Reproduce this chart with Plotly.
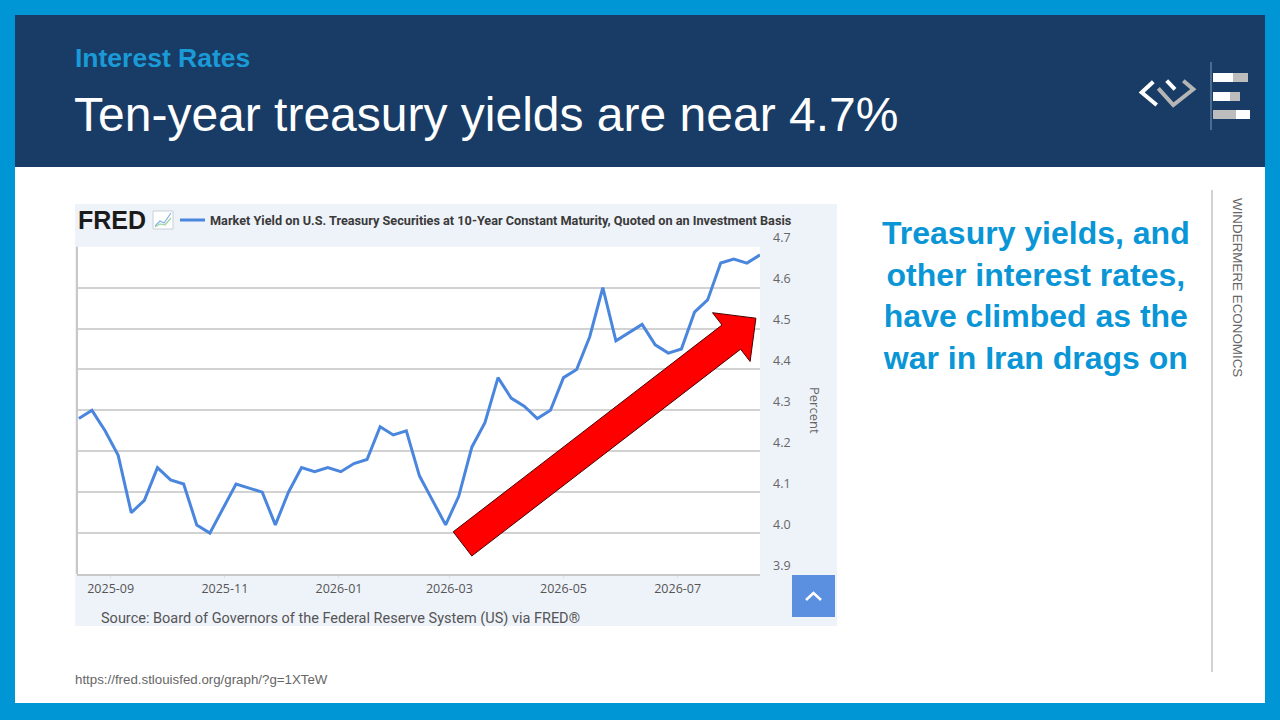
import plotly.graph_objects as go

# ---------------- data ----------------
dates = [
    "2025-08-15", "2025-08-22", "2025-08-29", "2025-09-05", "2025-09-12", "2025-09-19", "2025-09-26",
    "2025-10-03", "2025-10-10", "2025-10-17", "2025-10-24", "2025-10-31", "2025-11-07", "2025-11-14",
    "2025-11-21", "2025-11-28", "2025-12-05", "2025-12-12", "2025-12-19", "2025-12-26", "2026-01-02",
    "2026-01-09", "2026-01-16", "2026-01-23", "2026-01-30", "2026-02-06", "2026-02-13", "2026-02-20",
    "2026-02-27", "2026-03-06", "2026-03-13", "2026-03-20", "2026-03-27", "2026-04-03", "2026-04-10",
    "2026-04-17", "2026-04-24", "2026-05-01", "2026-05-08", "2026-05-15", "2026-05-22", "2026-05-29",
    "2026-06-05", "2026-06-12", "2026-06-19", "2026-06-26", "2026-07-03", "2026-07-10", "2026-07-17",
    "2026-07-24", "2026-07-31", "2026-08-07", "2026-08-14",
]
yield_10y = [
    4.28, 4.30, 4.25, 4.19, 4.05, 4.08, 4.16,
    4.13, 4.12, 4.02, 4.00, 4.06, 4.12, 4.11,
    4.10, 4.02, 4.10, 4.16, 4.15, 4.16, 4.15,
    4.17, 4.18, 4.26, 4.24, 4.25, 4.14, 4.08,
    4.02, 4.09, 4.21, 4.27, 4.38, 4.33, 4.31,
    4.28, 4.30, 4.38, 4.40, 4.48, 4.60, 4.47,
    4.49, 4.51, 4.46, 4.44, 4.45, 4.54, 4.57,
    4.66, 4.67, 4.66, 4.68,
]
x_tick_dates = ["2025-09-01", "2025-11-01", "2026-01-01", "2026-03-01", "2026-05-01", "2026-07-01"]
x_tick_labels = ["2025-09", "2025-11", "2026-01", "2026-03", "2026-05", "2026-07"]
y_ticks = [3.9, 4.0, 4.1, 4.2, 4.3, 4.4, 4.5, 4.6, 4.7]
y_tick_labels = ["3.9", "4.0", "4.1", "4.2", "4.3", "4.4", "4.5", "4.6", "4.7"]

section_label = "Interest Rates"
title_text = "Ten-year treasury yields are near 4.7%"
series_name = "Market Yield on U.S. Treasury Securities at 10-Year Constant Maturity, Quoted on an Investment Basis"
side_note = "Treasury yields, and<br>other interest rates,<br>have climbed as the<br>war in Iran drags on"
source_text = "Source: Board of Governors of the Federal Reserve System (US) via FRED®"
url_text = "https://fred.stlouisfed.org/graph/?g=1XTeW"
brand_text = "WINDERMERE ECONOMICS"

# ---------------- layout helpers ----------------
W, H = 1280, 720


def px(x, y):
    return x / W, 1 - y / H


def rect(x0, y0, x1, y1, color, layer="below", line=None):
    a, b = px(x0, y0)
    c, d = px(x1, y1)
    return dict(type="rect", xref="paper", yref="paper", x0=a, y0=d, x1=c, y1=b,
                fillcolor=color, line=line or dict(width=0), layer=layer)


def poly(points, closed=True, fill=None, color="black", width=1, layer="above"):
    s = ""
    for i, (x, y) in enumerate(points):
        a, b = px(x, y)
        s += ("M" if i == 0 else "L") + f"{a:.5f},{b:.5f} "
    if closed:
        s += "Z"
    d = dict(type="path", xref="paper", yref="paper", path=s,
             line=dict(color=color, width=width), layer=layer)
    if fill:
        d["fillcolor"] = fill
    return d


PLOT_L, PLOT_R, PLOT_T, PLOT_B = 77, 760, 246.7, 574

BLUE = "#0096d6"
shapes = [
    rect(15, 167, 1265, 703, "white"),
    rect(15, 15, 1265, 167, "#183c65"),
    rect(75, 204, 837, 626, "#eef2f9"),
    rect(PLOT_L, PLOT_T, PLOT_R, PLOT_B, "white"),
    # plot left border
    dict(type="line", xref="paper", yref="paper",
         x0=PLOT_L / W, x1=PLOT_L / W, y0=1 - PLOT_B / H, y1=1 - PLOT_T / H,
         line=dict(color="#c8c8c8", width=2), layer="above"),
    # FRED icon
    rect(153, 211, 173, 229, "white", layer="above", line=dict(color="#c9cfd8", width=1)),
    poly([(155, 226), (160, 221), (164, 223), (171, 213)], closed=False, color="#7fb3e8", width=1.2),
    poly([(155, 227), (160, 224), (165, 225), (171, 218)], closed=False, color="#9fd49f", width=1.2),
    # legend line
    dict(type="line", xref="paper", yref="paper", x0=180 / W, x1=205 / W, y0=1 - 220 / H, y1=1 - 220 / H,
         line=dict(color="#4a86dd", width=3), layer="above"),
    # up button
    rect(792, 575, 835, 617, "#5b8fe0", layer="above"),
    poly([(806, 600), (813.5, 593), (821, 600)], closed=False, color="white", width=2.5),
    # right divider
    dict(type="line", xref="paper", yref="paper", x0=1212 / W, x1=1212 / W, y0=1 - 672 / H, y1=1 - 190 / H,
         line=dict(color="#c3c3c3", width=1.5), layer="above"),
    # header logo divider + bars
    dict(type="line", xref="paper", yref="paper", x0=1211 / W, x1=1211 / W, y0=1 - 130 / H, y1=1 - 62 / H,
         line=dict(color="#7f9cc0", width=1), layer="above"),
    rect(1213, 73, 1233, 82, "white", layer="above"),
    rect(1233, 73, 1248, 82, "#bdbdbd", layer="above"),
    rect(1213, 92, 1230, 101, "white", layer="above"),
    rect(1230, 92, 1240, 101, "#bdbdbd", layer="above"),
    rect(1213, 110, 1236, 119, "#bdbdbd", layer="above"),
    rect(1236, 110, 1250, 119, "white", layer="above"),
    # Windermere mark
    poly([(1153.3, 81.7), (1141.7, 92.5), (1156.7, 105)], closed=False, color="white", width=4),
    poly([(1166.7, 80.7), (1175, 89.3)], closed=False, color="white", width=4),
    poly([(1158.3, 88.3), (1173.3, 105), (1193.3, 89.3), (1183.3, 80.7)], closed=False, color="#b5b5b5", width=4),
    # red arrow
    poly([(453.2, 531.8), (722.0, 325.0), (712.5, 312.7), (755.9, 318.2),
          (750.1, 361.5), (740.6, 349.2), (471.8, 556.0)],
         closed=True, fill="#ff0000", color="#4a0000", width=1),
]


def ann(x, y, text, size, color, family="Liberation Sans", xanchor="left", weight="normal",
        angle=0, align="left"):
    a, b = px(x, y)
    return dict(x=a, y=b, xref="paper", yref="paper", text=text, showarrow=False,
                xanchor=xanchor, yanchor="middle", textangle=angle, align=align,
                font=dict(size=size, color=color, family=family, weight=weight))


annotations = [
    ann(73, 58, section_label, 26.5, "#1a9ad6", weight="bold"),
    ann(72, 114, title_text, 48, "white"),
    ann(1036, 295, side_note, 32, "#0a96d6", xanchor="center", weight="bold", align="center"),
    ann(76, 220, "FRED", 25, "#1b1b1b", family="Liberation Sans", weight="bold"),
    ann(208, 220, series_name, 12.7, "#3a3a3a", family="Roboto", weight="bold"),
    ann(815, 410, "Percent", 13, "#666666", family="Open Sans", xanchor="center", angle=90),
    ann(99, 618, source_text, 14.5, "#555555", family="Roboto"),
    ann(73, 679, url_text, 13.3, "#666666"),
    ann(1238, 287, brand_text, 13.4, "#666666", xanchor="center", angle=90),
]

fig = go.Figure()
fig.add_trace(go.Scatter(
    x=dates, y=yield_10y, mode="lines",
    line=dict(color="#4a86dd", width=3),
    name=series_name, showlegend=False, hoverinfo="x+y",
))

fig.update_layout(
    width=W, height=H,
    autosize=False,
    margin=dict(l=0, r=0, t=0, b=0, pad=0, autoexpand=False),
    paper_bgcolor=BLUE,
    plot_bgcolor="white",
    showlegend=False,
    shapes=shapes,
    annotations=annotations,
    xaxis=dict(
        domain=[PLOT_L / W, PLOT_R / W],
        type="date",
        range=["2025-08-14", "2026-08-14"],
        tickvals=x_tick_dates, ticktext=x_tick_labels,
        showgrid=False, zeroline=False,
        showline=True, linecolor="#c8c8c8", linewidth=2,
        ticks="outside", ticklen=2, tickcolor="#dddddd",
        tickfont=dict(family="Open Sans", size=12.5, color="#555555"),
        automargin=False,
        fixedrange=True,
    ),
    yaxis=dict(
        domain=[1 - PLOT_B / H, 1 - PLOT_T / H],
        side="right",
        range=[3.9, 4.7],
        tickvals=y_ticks, ticktext=y_tick_labels,
        showgrid=True, gridcolor="#d2d2d2", gridwidth=2,
        zeroline=False, showline=False,
        ticks="", ticklabelstandoff=12,
        ticklabelposition="outside top",
        tickfont=dict(family="Open Sans", size=12.5, color="#666666"),
        automargin=False,
        fixedrange=True,
    ),
)

fig.write_html(
    "out.html",
    config={"displayModeBar": False},
    post_script="document.body.style.margin='0';document.body.style.overflow='hidden';",
)
